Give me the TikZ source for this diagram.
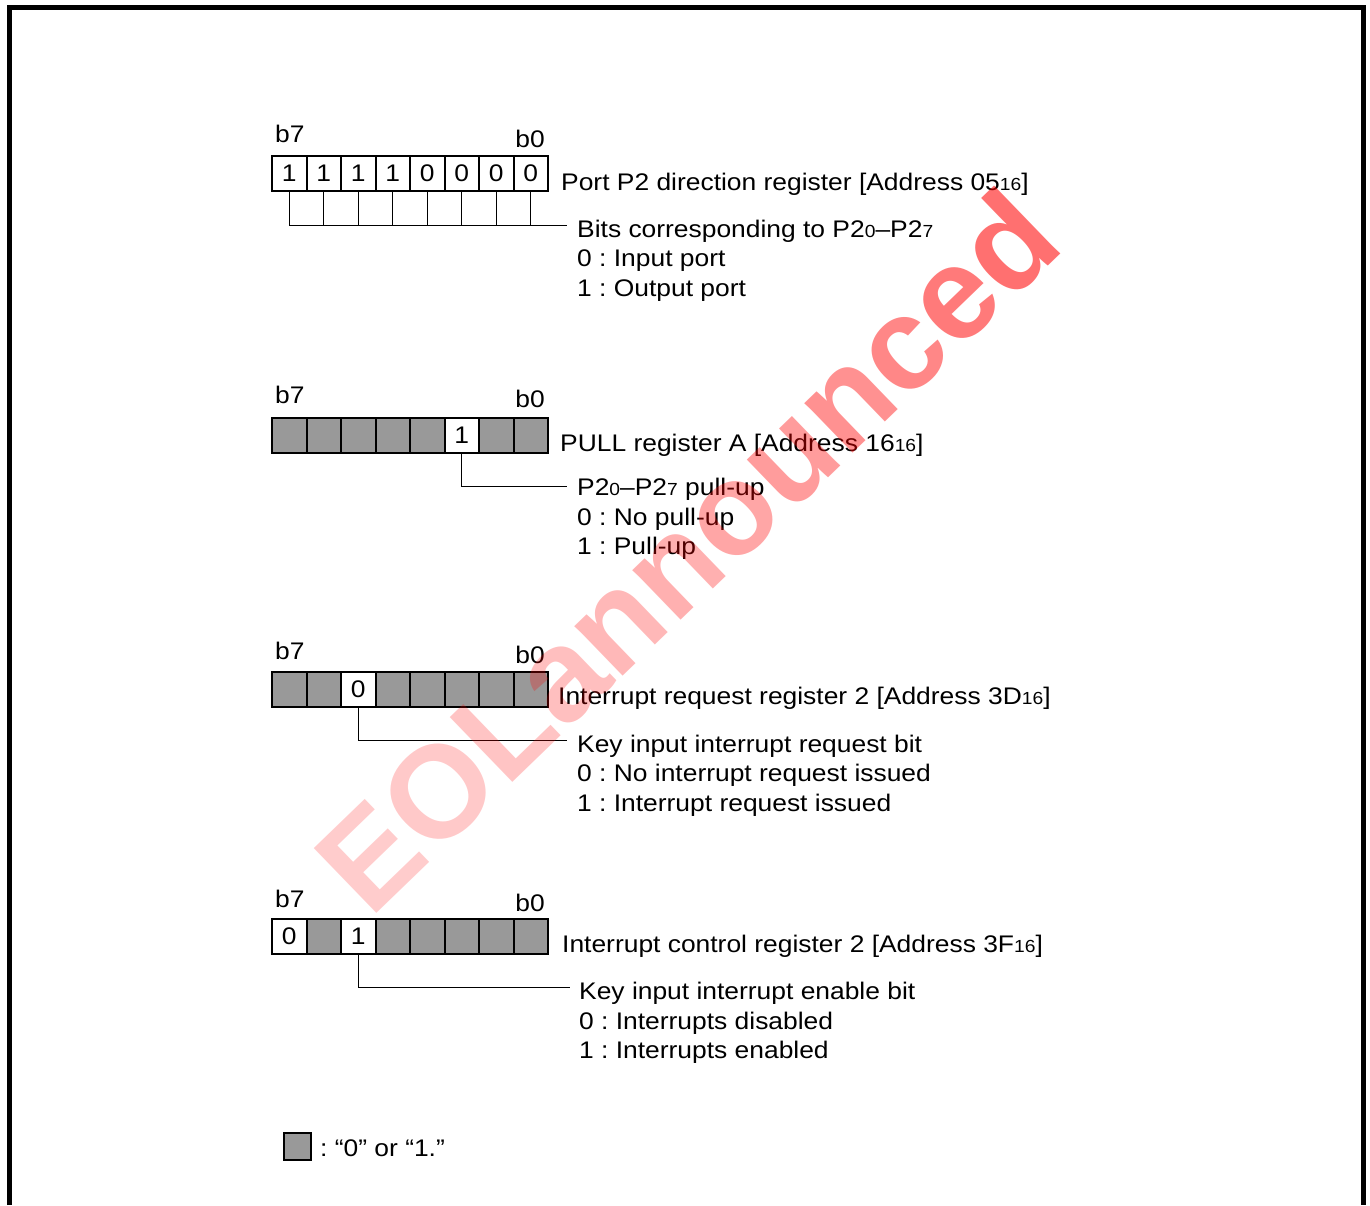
\documentclass[tikz,border=0pt]{standalone}
\usepackage{fontspec}
\setmainfont{Liberation Sans}[FakeStretch=1.1]
\newfontfamily\wmfont{Liberation Sans}
\frenchspacing
\definecolor{cellgray}{RGB}{153,153,153}
\newcommand{\sbs}[1]{{\fontsize{17.5}{17.5}\selectfont #1}}
\newcommand{\wl}[2]{\pgfsetfillopacity{#1}#2}
\newcommand{\regrow}[3]{%
  \foreach \s/\t [count=\k from 0] in {#3} {%
    \pgfmathtruncatemacro{\bb}{7-\k}%
    \node[\s] (#1c\bb) at ({272+34.5*\k},#2) {\t};%
  }%
}
\tikzset{
  cellbox/.style={draw=black, line width=2pt, minimum width=34.5pt, minimum height=35pt,
    inner sep=0pt, outer sep=0pt, anchor=north west, font=\fontsize{24}{28}\selectfont},
  g/.style={cellbox, fill=cellgray},
  w/.style={cellbox, fill=white},
  lbl/.style={anchor=base west, inner sep=0pt, font=\fontsize{24}{28}\selectfont},
  lblr/.style={anchor=base east, inner sep=0pt, font=\fontsize{24}{28}\selectfont},
  leader/.style={line width=1pt},
}
\begin{document}
\begin{tikzpicture}[x=1pt,y=-1pt]
\useasboundingbox (0,0) rectangle (1370,1205);
\fill[white] (0,0) rectangle (1370,1205);
\draw[line width=5pt] (9,1205) -- (9,7.5) -- (1363.5,7.5) -- (1363.5,1205);

% Register 1
\regrow{r1}{156}{w/1,w/1,w/1,w/1,w/0,w/0,w/0,w/0}
\node[lbl] (r1b7) at (275,142) {b7};
\node[lblr] (r1b0) at (545,147) {b0};
\node[lbl] (r1t) at (561,190) {Port P2 direction register [Address 05\sbs{16}]};
\coordinate (r1e) at (567,225);
\node[lbl] (r1d1) at (577,237) {Bits corresponding to P2\sbs{0}–P2\sbs{7}};
\node[lbl] (r1d2) at (577,266) {0 : Input port};
\node[lbl] (r1d3) at (577,296) {1 : Output port};
\draw[leader] (r1c7.south) |- (r1e);
\foreach \b in {6,...,0} \draw[leader] (r1c\b.south) -- (r1c\b.south |- r1e);

% Register 2
\regrow{r2}{417.5}{g/,g/,g/,g/,g/,w/1,g/,g/}
\node[lbl] (r2b7) at (275,403) {b7};
\node[lblr] (r2b0) at (545,407) {b0};
\node[lbl] (r2t) at (560,451) {PULL register A [Address 16\sbs{16}]};
\coordinate (r2e) at (567,486);
\node[lbl] (r2d1) at (577,495) {P2\sbs{0}–P2\sbs{7} pull-up};
\node[lbl] (r2d2) at (577,525) {0 : No pull-up};
\node[lbl] (r2d3) at (577,554) {1 : Pull-up};
\draw[leader] (r2c2.south) |- (r2e);

% Register 3
\regrow{r3}{671.5}{g/,g/,w/0,g/,g/,g/,g/,g/}
\node[lbl] (r3b7) at (275,659) {b7};
\node[lblr] (r3b0) at (545,663) {b0};
\node[lbl] (r3t) at (558,704) {Interrupt request register 2 [Address 3D\sbs{16}]};
\coordinate (r3e) at (567,740);
\node[lbl] (r3d1) at (577,752) {Key input interrupt request bit};
\node[lbl] (r3d2) at (577,781) {0 : No interrupt request issued};
\node[lbl] (r3d3) at (577,811) {1 : Interrupt request issued};
\draw[leader] (r3c5.south) |- (r3e);

% Register 4
\regrow{r4}{919}{w/0,g/,w/1,g/,g/,g/,g/,g/}
\node[lbl] (r4b7) at (275,907) {b7};
\node[lblr] (r4b0) at (545,911) {b0};
\node[lbl] (r4t) at (562,952) {Interrupt control register 2 [Address 3F\sbs{16}]};
\coordinate (r4e) at (570,987);
\node[lbl] (r4d1) at (579,999) {Key input interrupt enable bit};
\node[lbl] (r4d2) at (579,1029) {0 : Interrupts disabled};
\node[lbl] (r4d3) at (579,1058) {1 : Interrupts enabled};
\draw[leader] (r4c5.south) |- (r4e);

% Legend
\node[draw=black, line width=2pt, fill=cellgray, minimum size=27pt, inner sep=0pt] (leg) at (297,1146.5) {};
\node[lbl] (legt) at (320,1156) {: “0” or “1.”};

% Watermark
\node[rotate=44, font=\wmfont\bfseries\fontsize{131}{133}\selectfont, text=red, inner sep=0pt] (wm) at (686,550)
  {\wl{0.2}{E}\wl{0.21}{O}\wl{0.23}{L}\wl{0.25}{a}\wl{0.28}{n}\wl{0.31}{n}\wl{0.35}{o}\wl{0.39}{u}\wl{0.43}{n}\wl{0.47}{c}\wl{0.52}{e}\wl{0.56}{d}\pgfsetfillopacity{1}};
\end{tikzpicture}
\end{document}
